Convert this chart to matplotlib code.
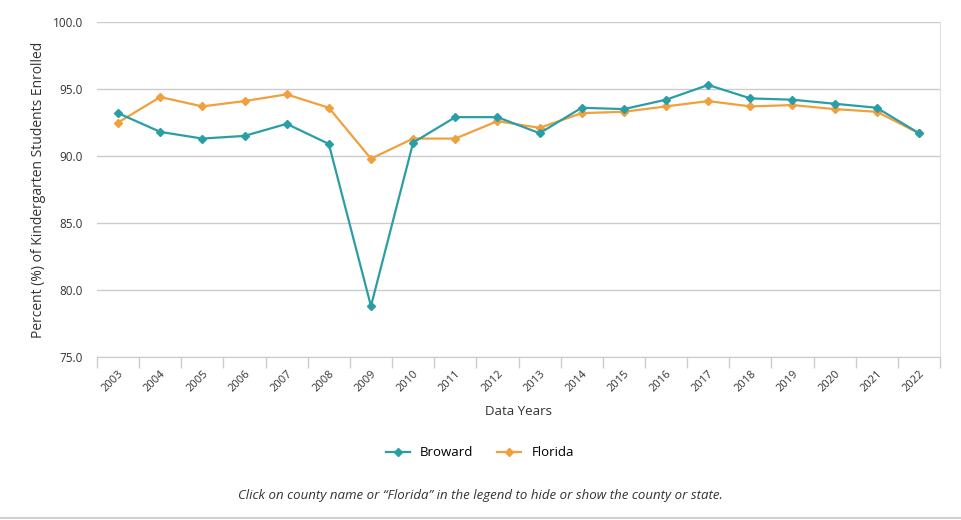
import matplotlib.pyplot as plt
import numpy as np
from matplotlib.ticker import FixedLocator

years = [str(y) for y in range(2003, 2023)]
broward = [93.2, 91.8, 91.3, 91.5, 92.4, 90.9, 78.8, 91.0, 92.9, 92.9,
           91.7, 93.6, 93.5, 94.2, 95.3, 94.3, 94.2, 93.9, 93.6, 91.7]
florida = [92.5, 94.4, 93.7, 94.1, 94.6, 93.6, 89.8, 91.3, 91.3, 92.6,
           92.1, 93.2, 93.3, 93.7, 94.1, 93.7, 93.8, 93.5, 93.3, 91.7]

teal = '#2a9ea6'
orange = '#f0a03c'

plt.rcParams['font.family'] = ['Open Sans', 'DejaVu Sans']

fig = plt.figure(figsize=(9.62, 5.2), dpi=100)
ax = fig.add_axes([97 / 962, 1 - 357 / 520, (940 - 97) / 962, (357 - 22) / 520])

x = np.arange(len(years))
ax.plot(x, broward, color=teal, lw=1.6, marker='D', ms=4.5, label='Broward', zorder=3)
ax.plot(x, florida, color=orange, lw=1.6, marker='D', ms=4.5, label='Florida', zorder=2)

ax.set_xlim(-0.5, len(years) - 0.5)
ax.set_ylim(75, 100)
ax.set_yticks([75, 80, 85, 90, 95, 100])
ax.set_yticklabels([f'{v:.1f}' for v in [75, 80, 85, 90, 95, 100]], fontsize=8.5, color='#333333')
ax.yaxis.grid(True, color='#cccccc', lw=1)
ax.tick_params(axis='y', length=0, pad=10)

ax.set_xticks(x)
ax.set_xticklabels(years, rotation=45, ha='right', va='top', rotation_mode='anchor',
                   fontsize=8, color='#333333')
ax.tick_params(axis='x', which='major', length=0, pad=8)
ax.xaxis.set_minor_locator(FixedLocator(np.arange(-0.5, len(years), 1)))
ax.tick_params(axis='x', which='minor', length=8, color='#cccccc', width=1)

for s in ['top', 'left']:
    ax.spines[s].set_visible(False)
ax.spines['right'].set_color('#e0e0e0')
ax.spines['bottom'].set_color('#cccccc')
ax.set_axisbelow(True)

ax.set_xlabel('Data Years', fontsize=9.5, color='#333333', labelpad=8)
ax.set_ylabel('Percent (%) of Kindergarten Students Enrolled', fontsize=10, color='#333333', labelpad=5)

fig.legend(loc='center', bbox_to_anchor=(480 / 962, 1 - 453 / 520), ncol=2, frameon=False,
           fontsize=9.5, handlelength=1.8, columnspacing=1.8, markerscale=0.8)

fig.text(480 / 962, 1 - 496 / 520,
         'Click on county name or \u201cFlorida\u201d in the legend to hide or show the county or state.',
         ha='center', va='center', fontsize=9.5, style='italic', color='#333333')

fig.add_artist(plt.Line2D([0, 1], [1 - 518 / 520] * 2, color='#d0d0d0', lw=1.5))

fig.savefig('out.png', dpi=100)
